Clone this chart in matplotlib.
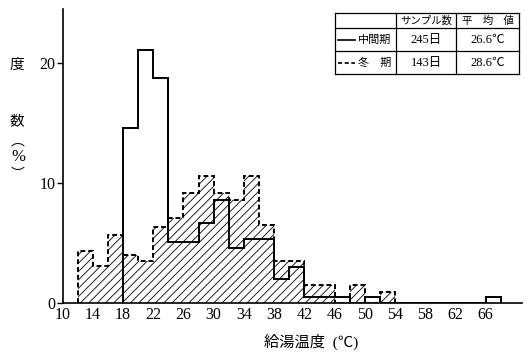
import numpy as np
import matplotlib
matplotlib.use("Agg")
import matplotlib.pyplot as plt

plt.rcParams['font.family'] = ['Liberation Serif', 'Noto Sans CJK JP']
plt.rcParams['hatch.linewidth'] = 0.6

# --- data: 給湯温度 histograms (bin width 2 ℃), percent of days ---
edges_mid = np.arange(18, 70, 2)           # 中間期 bins 18..68
pct_mid = [14.6, 21.1, 18.75, 5.1, 5.1, 6.7, 8.6, 4.6, 5.3, 5.3,
           2.0, 3.0, 0.5, 0.5, 0.5, 0.0, 0.5, 0.0, 0.0, 0.0,
           0.0, 0.0, 0.0, 0.0, 0.5]
edges_win = np.arange(12, 56, 2)           # 冬期 bins 12..54
pct_win = [4.3, 3.1, 5.7, 4.0, 3.5, 6.3, 7.1, 9.15, 10.6, 9.15,
           8.6, 10.6, 6.5, 3.5, 3.5, 1.5, 1.5, 0.0, 1.5, 0.0, 0.9]

xticks = list(range(10, 70, 4))
yticks = [0, 10, 20]

table_head = ['', 'サンプル数', '平　均　値']
table_rows = [['中間期', '245日', '26.6℃'],
              ['冬　期', '143日', '28.6℃']]
row_styles = ['-', (0, (2.5, 1.5))]

fig = plt.figure(figsize=(5.26, 3.55), dpi=100)
ax = fig.add_axes([62.5 / 526, 1 - 303 / 355, (522 - 62.5) / 526, (303 - 9) / 355])

# winter: hatched area with dashed outline
ax.stairs(pct_win, edges_win, fill=True, facecolor='none', edgecolor='black',
          hatch='////', linewidth=0)
ax.stairs(pct_win, edges_win, baseline=0, color='black', linewidth=1.4,
          linestyle=(0, (2.5, 1.5)))
# mid-season: solid outline
ax.stairs(pct_mid, edges_mid, baseline=0, color='black', linewidth=1.4)

ax.set_xlim(10, 70.8)
ax.set_ylim(0, 24.5)
ax.set_xticks(xticks)
ax.set_xticklabels([str(t) for t in xticks])
ax.set_yticks(yticks)
ax.set_yticklabels([str(t) for t in yticks])
ax.tick_params(axis='x', length=0, pad=3, labelsize=11.5)
ax.tick_params(axis='y', direction='out', length=4, width=1, pad=1, labelsize=11.5)
for s in ('top', 'right'):
    ax.spines[s].set_visible(False)
for s in ('left', 'bottom'):
    ax.spines[s].set_linewidth(1.2)

# vertical y label: 度 数 (%)
jp = ['Noto Sans CJK JP']
fig.text(17 / 526, 1 - 65 / 355, '度', family=jp, fontsize=10.5, ha='center', va='center')
fig.text(17 / 526, 1 - 121 / 355, '数', family=jp, fontsize=10.5, ha='center', va='center')
fig.text(18 / 526, 1 - 141 / 355, '︵', family=jp, fontsize=10, ha='center', va='center')
fig.text(18 / 526, 1 - 157 / 355, '%', fontsize=12, ha='center', va='center')
fig.text(18 / 526, 1 - 174 / 355, '︶', family=jp, fontsize=10, ha='center', va='center')

fig.text(311 / 526, 1 - 342 / 355, '給湯温度  (℃)', fontsize=11, ha='center', va='center')

# summary table in the upper right
lg = fig.add_axes([335 / 526, 1 - 74 / 355, 184 / 526, 61.3 / 355])
lg.set_xlim(0, 1)
lg.set_ylim(0, 1)
lg.axis('off')
col_x = [0, 0.33, 0.66, 1]
row_y = [1, 0.745, 0.375, 0]
lw = 0.9
for x in col_x:
    lg.plot([x, x], [0, 1], color='black', linewidth=lw, clip_on=False)
for y in row_y:
    lg.plot([0, 1], [y, y], color='black', linewidth=lw, clip_on=False)

for j, txt in enumerate(table_head):
    lg.text((col_x[j] + col_x[j + 1]) / 2, (row_y[0] + row_y[1]) / 2, txt,
            family=jp, fontsize=7.5, ha='center', va='center')
for i, row in enumerate(table_rows):
    yc = (row_y[i + 1] + row_y[i + 2]) / 2
    lg.plot([0.015, 0.11], [yc, yc], color='black', linewidth=1.2,
            linestyle=row_styles[i])
    lg.text(0.215, yc, row[0], family=jp, fontsize=8, ha='center', va='center')
    lg.text((col_x[1] + col_x[2]) / 2, yc, row[1], fontsize=9, ha='center', va='center')
    lg.text((col_x[2] + col_x[3]) / 2, yc, row[2], fontsize=9, ha='center', va='center')

fig.savefig('out.png', dpi=100)
